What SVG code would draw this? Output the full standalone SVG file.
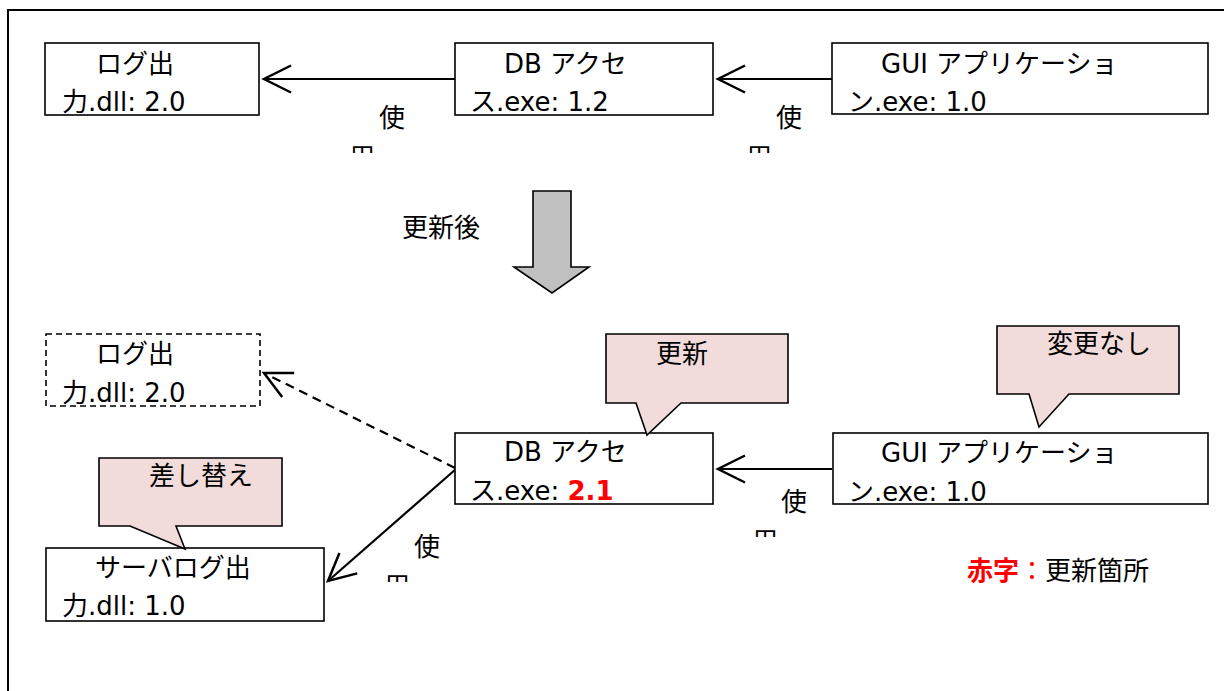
<svg xmlns="http://www.w3.org/2000/svg" width="1224" height="691" viewBox="0 0 1224 691">
<style>
.t{font-family:"DejaVu Sans","Noto Sans CJK JP",sans-serif;font-size:26px;fill:#000}
.j{font-family:"Noto Sans CJK JP",sans-serif;font-size:26px;fill:#000}
.box{fill:#fff;stroke:#000;stroke-width:1.6}
.dash{fill:#fff;stroke:#000;stroke-width:1.6;stroke-dasharray:6 4}
.call{fill:#f2dcdb;stroke:#000;stroke-width:1.6}
.con{fill:none;stroke:#000;stroke-width:2.2}
.red{fill:#ff0000;font-weight:bold}
</style>
<defs>
<marker id="open" markerUnits="userSpaceOnUse" viewBox="-32 -17 36 34" refX="0" refY="0" markerWidth="36" markerHeight="34" orient="auto">
<path d="M-27,-13.5 L0,0 L-27,13.5" fill="none" stroke="#000" stroke-width="2.5"/>
</marker>
<clipPath id="c1"><rect x="330" y="130" width="60" height="23"/></clipPath>
<clipPath id="c2"><rect x="727" y="130" width="60" height="23"/></clipPath>
<clipPath id="c3"><rect x="733" y="514" width="60" height="23"/></clipPath>
<clipPath id="c4"><rect x="365" y="559" width="60" height="23"/></clipPath>
</defs>
<rect x="8" y="10" width="1240" height="710" fill="#fff" stroke="#000" stroke-width="2"/>

<g id="connectors">
<line class="con" x1="455" y1="79" x2="264" y2="79" marker-end="url(#open)"/>
<line class="con" x1="832" y1="79" x2="718" y2="79" marker-end="url(#open)"/>
<line class="con" x1="455" y1="468" x2="264" y2="373" stroke-dasharray="9 6" marker-end="url(#open)"/>
<line class="con" x1="832" y1="469" x2="718" y2="469" marker-end="url(#open)"/>
<line class="con" x1="456" y1="469" x2="328" y2="581" marker-end="url(#open)"/>
</g>

<g id="label-use1"><text class="j" x="379" y="127">使</text><text class="j" x="349" y="167" clip-path="url(#c1)">用</text></g>
<g id="label-use2"><text class="j" x="776" y="127">使</text><text class="j" x="746" y="167" clip-path="url(#c2)">用</text></g>
<g id="label-use3"><text class="j" x="781" y="511">使</text><text class="j" x="752" y="551" clip-path="url(#c3)">用</text></g>
<g id="label-use4"><text class="j" x="414" y="556">使</text><text class="j" x="384" y="596" clip-path="url(#c4)">用</text></g>

<g id="log-top">
<rect class="box" x="45" y="43" width="214" height="72"/>
<text class="t" x="96" y="73">ログ出</text>
<text class="t" x="62" y="111">力.dll: 2.0</text>
</g>
<g id="db-top">
<rect class="box" x="455" y="43" width="258" height="72"/>
<text class="t" x="504" y="73">DB アクセ</text>
<text class="t" x="470" y="111">ス.exe: 1.2</text>
</g>
<g id="gui-top">
<rect class="box" x="832" y="43" width="376" height="71"/>
<text class="t" x="881" y="73">GUI アプリケーショ</text>
<text class="t" x="848" y="111">ン.exe: 1.0</text>
</g>

<g id="update-arrow">
<polygon points="533,191 571,191 571,267 589,267 552,293 514,267 533,267" fill="#c0c0c0" stroke="#000" stroke-width="1.6"/>
<text class="j" x="402" y="237">更新後</text>
</g>

<g id="log-bottom">
<rect class="dash" x="46" y="334" width="214" height="72"/>
<text class="t" x="96" y="363">ログ出</text>
<text class="t" x="62" y="402">力.dll: 2.0</text>
</g>
<g id="db-bottom">
<rect class="box" x="455" y="433" width="258" height="71"/>
<text class="t" x="504" y="461">DB アクセ</text>
<text class="t" x="470" y="500">ス.exe: <tspan class="red">2.1</tspan></text>
</g>
<g id="gui-bottom">
<rect class="box" x="833" y="433" width="375" height="71"/>
<text class="t" x="881" y="462">GUI アプリケーショ</text>
<text class="t" x="848" y="501">ン.exe: 1.0</text>
</g>
<g id="server-log">
<rect class="box" x="46" y="548" width="278" height="73"/>
<text class="t" x="95" y="577">サーバログ出</text>
<text class="t" x="62" y="615">力.dll: 1.0</text>
</g>

<g id="callout-update">
<path class="call" d="M606,334 H788 V403 H681 L647,435 L636,403 H606 Z"/>
<text class="j" x="656" y="363">更新</text>
</g>
<g id="callout-nochange">
<path class="call" d="M997,326 H1179 V394 H1069 L1039,427 L1029,394 H997 Z"/>
<text class="j" x="1047" y="353">変更なし</text>
</g>
<g id="callout-replace">
<path class="call" d="M99,458 H282 V526 H176 L185,549 L130,526 H99 Z"/>
<text class="j" x="149" y="485">差し替え</text>
</g>

<g id="legend">
<text class="j" x="967" y="580"><tspan fill="#ff0000" font-weight="bold">赤字</tspan><tspan fill="#ff0000">：</tspan>更新箇所</text>
</g>
</svg>
